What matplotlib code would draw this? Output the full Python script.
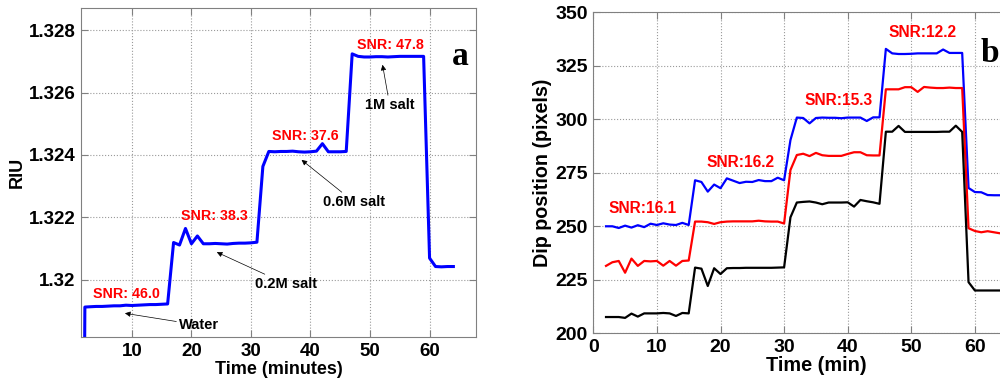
import numpy as np
import matplotlib
matplotlib.use('Agg')
import matplotlib.pyplot as plt

plt.rcParams['font.family'] = ['Liberation Sans', 'DejaVu Sans']
plt.rcParams['font.weight'] = 'bold'

# Panel a: RIU vs time (minutes)
t_a = [2, 2.1] + list(range(3, 65))
riu = [1.3160, 1.31912, 1.31913, 1.31914, 1.31914, 1.31915, 1.31916, 1.31916,
       1.31918, 1.31917, 1.31918, 1.31919, 1.31920, 1.31920, 1.31921, 1.31922,
       1.32119, 1.32111, 1.32164, 1.32115, 1.32140, 1.32115, 1.32115, 1.32116,
       1.32115, 1.32114, 1.32116, 1.32117, 1.32117, 1.32118, 1.32120,
       1.32363, 1.32411, 1.32410, 1.32411, 1.32411, 1.32412, 1.32410, 1.32409,
       1.32410, 1.32412, 1.32436, 1.32410, 1.32410, 1.32410, 1.32411,
       1.32724, 1.32716, 1.32714, 1.32714, 1.32715, 1.32715, 1.32714, 1.32715,
       1.32716, 1.32716, 1.32716, 1.32716, 1.32716,
       1.32069, 1.32042, 1.32041, 1.32042, 1.32042]
snr_a = ['SNR: 46.0', 'SNR: 38.3', 'SNR: 37.6', 'SNR: 47.8']
labels_a = ['Water', '0.2M salt', '0.6M salt', '1M salt']

# Panel b: dip position vs time (min)
t_b = list(range(2, 65))
dip_blue = [250.0, 250.0, 249.2, 250.3, 249.4, 250.5, 249.6, 251.2, 250.6, 251.4, 250.8, 250.6, 251.6, 250.6,
            271.5, 270.7, 266.2, 269.5, 267.8, 272.4, 271.3, 270.2, 270.8, 270.7, 271.6, 271.1, 271.1, 272.7, 271.5,
            290.3, 300.8, 300.6, 298.1, 300.6, 300.8, 300.7, 300.7, 300.5, 300.8, 300.8, 300.8, 299.2, 300.9, 300.9,
            332.9, 330.8, 330.5, 330.5, 330.6, 330.8, 330.8, 330.8, 330.8, 332.6, 331.0, 331.0, 331.0,
            267.9, 266.0, 265.9, 264.6, 264.5, 264.5]
dip_red = [231.5, 233.2, 233.8, 228.3, 234.9, 231.5, 233.8, 233.6, 233.8, 231.6, 233.8, 231.6, 233.8, 234.0,
           252.2, 252.2, 251.9, 251.1, 251.9, 252.2, 252.3, 252.3, 252.3, 252.3, 252.6, 252.3, 252.2, 252.2, 251.3,
           276.3, 283.3, 283.9, 282.8, 284.3, 283.2, 282.9, 282.9, 282.9, 283.8, 284.6, 284.6, 283.2, 283.1, 283.1,
           314.0, 314.0, 314.0, 315.0, 315.0, 312.8, 315.1, 314.8, 314.6, 314.6, 314.8, 314.6, 314.6,
           249.1, 247.8, 247.2, 247.7, 247.2, 246.7]
dip_black = [207.6, 207.6, 207.6, 207.2, 209.2, 207.8, 209.3, 209.3, 209.3, 209.5, 209.3, 208.1, 209.5, 209.3,
             230.7, 230.2, 222.1, 230.4, 227.7, 230.4, 230.5, 230.5, 230.6, 230.6, 230.6, 230.6, 230.6, 230.7, 230.8,
             254.2, 261.1, 261.4, 261.6, 261.1, 260.3, 261.1, 261.1, 261.1, 261.2, 259.2, 262.3, 261.7, 261.2, 260.5,
             294.2, 294.2, 296.9, 294.1, 294.1, 294.1, 294.1, 294.1, 294.1, 294.2, 294.2, 297.0, 294.1,
             223.9, 220.0, 220.0, 220.0, 220.0, 220.0]
snr_b = ['SNR:16.1', 'SNR:16.2', 'SNR:15.3', 'SNR:12.2']


def matlab_style(ax, size):
    for s in ax.spines.values():
        s.set_color('#808080')
        s.set_linewidth(0.8)
    ax.tick_params(direction='in', length=5, width=0.8, color='#808080',
                   top=True, right=True, labelsize=size, labelcolor='k', pad=4)
    ax.grid(True, linestyle=':', color='#9a9a9a', linewidth=0.8)
    for lab in ax.get_xticklabels() + ax.get_yticklabels():
        lab.set_fontweight('bold')


fig = plt.figure(figsize=(10, 3.79), dpi=100)

# ---- panel a
ax1 = fig.add_axes([0.081, 0.110, 0.395, 0.868])
ax1.plot(t_a, riu, color='#0000ff', lw=2.2)
ax1.set_xlim(1.45, 67.8)
ax1.set_ylim(1.31815, 1.3287)
ax1.set_xticks([10, 20, 30, 40, 50, 60])
ax1.set_yticks([1.32, 1.322, 1.324, 1.326, 1.328])
ax1.set_yticklabels(['1.32', '1.322', '1.324', '1.326', '1.328'])
matlab_style(ax1, 13.5)
ax1.set_xlabel('Time (minutes)', fontsize=13, fontweight='bold', labelpad=1)
ax1.set_ylabel('RIU', fontsize=13, fontweight='bold', labelpad=2)

for txt, (x, y) in zip(snr_a, [(9.04, 1.31953), (23.8, 1.32204), (39.1, 1.32461), (53.5, 1.32753)]):
    ax1.text(x, y, txt, color='#ff0000', fontsize=10.3, fontweight='bold', ha='center', va='center')

arrow_kw = dict(arrowstyle='-|>', color='k', lw=0.5, mutation_scale=8, shrinkA=0, shrinkB=0)
heads = [(8.83, 1.31892), (24.26, 1.32088), (38.5, 1.32384), (52.1, 1.32689)]
tails = [(21.3, 1.31854), (35.9, 1.31986), (47.3, 1.32249), (53.3, 1.3256)]
for txt, h, tl in zip(labels_a, heads, tails):
    ax1.annotate(txt, xy=h, xytext=tl, fontsize=10.5, fontweight='bold',
                 ha='center', va='center', arrowprops=arrow_kw)
ax1.text(65.1, 1.32714, 'a', fontsize=24, fontweight='bold',
         family='Liberation Serif', ha='center', va='center')

# ---- panel b (runs past the right edge of the figure)
ax2 = fig.add_axes([0.5933, 0.1206, 0.4452, 0.847])
ax2.plot(t_b, dip_blue, color='#0000ff', lw=1.6)
ax2.plot(t_b, dip_red, color='#ff0000', lw=1.6)
ax2.plot(t_b, dip_black, color='k', lw=1.6)
ax2.set_xlim(0, 70)
ax2.set_ylim(200, 350)
ax2.set_xticks([0, 10, 20, 30, 40, 50, 60])
ax2.set_yticks([200, 225, 250, 275, 300, 325, 350])
matlab_style(ax2, 14)
ax2.set_xlabel('Time (min)', fontsize=14.3, fontweight='bold', labelpad=0)
ax2.set_ylabel('Dip position (pixels)', fontsize=14.2, fontweight='bold', labelpad=2)
for txt, (x, y) in zip(snr_b, [(7.76, 258.1), (23.2, 279.9), (38.6, 309.0), (51.8, 340.5)]):
    ax2.text(x, y, txt, color='#ff0000', fontsize=11.2, fontweight='bold', ha='center', va='center')
ax2.text(62.4, 330.8, 'b', fontsize=24, fontweight='bold',
         family='Liberation Serif', ha='center', va='center')

fig.savefig('out.png', dpi=100)
